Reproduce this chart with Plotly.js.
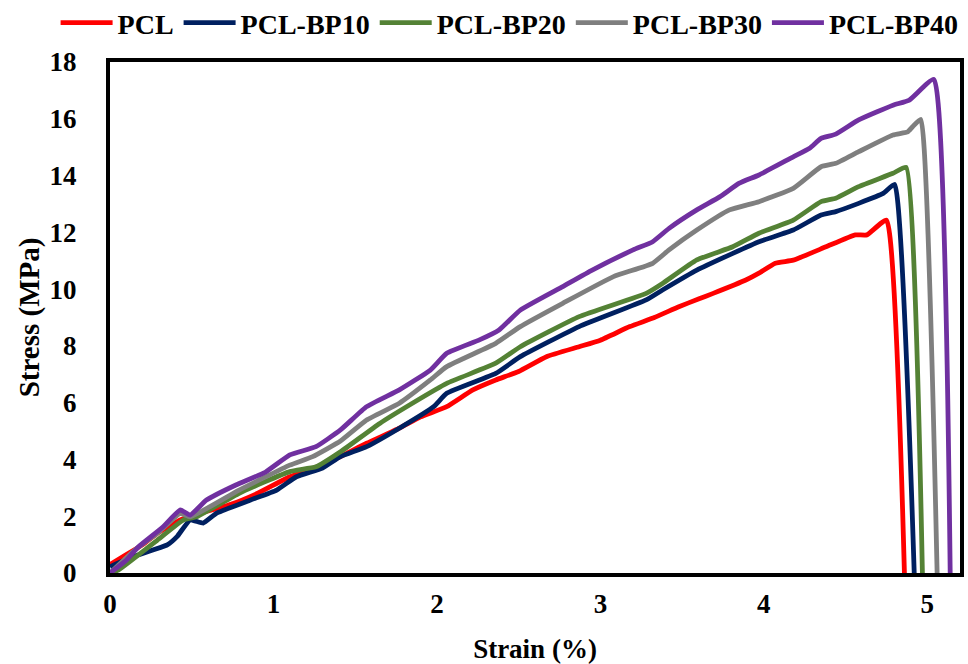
<!DOCTYPE html>
<html>
<head>
<meta charset="utf-8">
<script src="https://cdn.plot.ly/plotly-3.0.1.min.js"></script>
<style>html,body{margin:0;padding:0;background:#fff;}#chart{width:968px;height:664px;}</style>
</head>
<body>
<div id="chart"></div>
<script>
const seriesNames = ["PCL", "PCL-BP10", "PCL-BP20", "PCL-BP30", "PCL-BP40"];
const seriesColors = ["#FF0000", "#002060", "#548235", "#7F7F7F", "#7030A0"];

const strainPCL = [0, 0.1, 0.2, 0.29, 0.43, 0.55, 0.73, 0.9, 1.1, 1.25, 1.41, 1.57, 1.77, 1.9, 2.06, 2.22, 2.36, 2.5, 2.67, 2.87, 3.0, 3.18, 3.33, 3.48, 3.6, 3.69, 3.89, 3.97, 4.07, 4.18, 4.38, 4.56, 4.63, 4.75, 4.86];
const stressPCL = [0.3, 0.65, 1.0, 1.4, 1.87, 2.1, 2.4, 2.8, 3.39, 3.7, 4.1, 4.57, 5.1, 5.5, 5.86, 6.45, 6.8, 7.1, 7.62, 7.97, 8.2, 8.68, 9.0, 9.38, 9.65, 9.85, 10.32, 10.56, 10.91, 11.02, 11.49, 11.91, 11.91, 12.43, 0];

const strainBP10 = [0, 0.14, 0.35, 0.41, 0.49, 0.57, 0.65, 0.86, 1.02, 1.14, 1.30, 1.41, 1.57, 1.77, 1.98, 2.06, 2.36, 2.51, 2.87, 3.28, 3.38, 3.59, 3.81, 3.97, 4.18, 4.35, 4.44, 4.58, 4.73, 4.80, 4.92];
const stressBP10 = [0.22, 0.57, 0.99, 1.28, 1.87, 1.76, 2.1, 2.57, 2.92, 3.39, 3.7, 4.1, 4.45, 5.1, 5.86, 6.33, 7.03, 7.62, 8.68, 9.62, 9.97, 10.67, 11.26, 11.67, 12.08, 12.61, 12.73, 13.02, 13.37, 13.69, 0];

const strainBP20 = [0, 0.05, 0.29, 0.45, 0.53, 0.79, 1.10, 1.26, 1.41, 1.65, 1.85, 2.06, 2.36, 2.51, 2.87, 3.28, 3.38, 3.59, 3.81, 3.97, 4.18, 4.35, 4.44, 4.58, 4.79, 4.87, 4.97];
const stressBP20 = [0, 0.1, 1.16, 1.87, 1.98, 2.81, 3.57, 3.74, 4.27, 5.27, 5.98, 6.68, 7.39, 7.97, 9.03, 9.85, 10.2, 11.03, 11.49, 11.97, 12.43, 13.08, 13.2, 13.61, 14.08, 14.29, 0];

const strainBP30 = [0, 0.15, 0.3, 0.43, 0.49, 0.79, 1.10, 1.24, 1.41, 1.57, 1.77, 1.96, 2.06, 2.36, 2.51, 2.77, 3.08, 3.32, 3.42, 3.59, 3.79, 3.97, 4.18, 4.35, 4.44, 4.58, 4.79, 4.88, 4.91, 4.96, 5.06];
const stressBP30 = [0, 0.8, 1.45, 2.1, 1.98, 2.92, 3.80, 4.10, 4.65, 5.39, 5.98, 6.80, 7.27, 8.09, 8.68, 9.50, 10.44, 10.91, 11.38, 12.08, 12.79, 13.08, 13.55, 14.31, 14.43, 14.84, 15.43, 15.54, 15.72, 15.98, 0];

const strainBP40 = [0, 0.1, 0.17, 0.32, 0.43, 0.49, 0.59, 0.77, 0.95, 1.10, 1.26, 1.41, 1.57, 1.77, 1.96, 2.06, 2.26, 2.38, 2.51, 2.77, 2.95, 3.20, 3.32, 3.42, 3.59, 3.73, 3.85, 3.97, 4.18, 4.28, 4.35, 4.44, 4.58, 4.79, 4.89, 5.04, 5.14];
const stressBP40 = [0, 0.45, 0.9, 1.6, 2.22, 2.04, 2.57, 3.1, 3.55, 4.16, 4.45, 5.04, 5.86, 6.45, 7.15, 7.74, 8.21, 8.56, 9.26, 10.09, 10.67, 11.38, 11.67, 12.14, 12.79, 13.25, 13.73, 14.02, 14.66, 14.96, 15.31, 15.46, 15.96, 16.48, 16.66, 17.39, 0];

const xTicks = [0, 1, 2, 3, 4, 5];
const yTicks = [0, 2, 4, 6, 8, 10, 12, 14, 16, 18];

const xs = [strainPCL, strainBP10, strainBP20, strainBP30, strainBP40];
const ys = [stressPCL, stressBP10, stressBP20, stressBP30, stressBP40];

const FONT = '"Liberation Serif", "DejaVu Serif", serif';

const traces = seriesNames.map((n, i) => ({
  type: 'scatter', mode: 'lines', name: n,
  x: xs[i], y: ys[i],
  line: {color: seriesColors[i], width: 4.8, shape: 'spline', smoothing: 0.4}
}));

const layout = {
  width: 968, height: 664,
  margin: {l: 110, r: 8, t: 62, b: 91, autoexpand: false},
  paper_bgcolor: '#fff', plot_bgcolor: '#fff',
  font: {family: FONT, color: '#000'},
  showlegend: true,
  legend: {
    orientation: 'h', xref: 'paper', yref: 'paper',
    x: -0.064, xanchor: 'left', y: 1 + (62 - 23) / 511, yanchor: 'middle',
    itemwidth: 52, bgcolor: 'rgba(0,0,0,0)',
    font: {family: FONT, size: 28, color: '#000', weight: 'bold'},
    itemclick: false, tracegroupgap: 0
  },
  xaxis: {
    range: [0, 5.2], tickvals: xTicks, ticktext: xTicks.map(String),
    showgrid: false, zeroline: false, showline: true, linecolor: '#000', linewidth: 4, mirror: true,
    ticks: '', ticklabelstandoff: 4,
    tickfont: {family: FONT, size: 27, color: '#000', weight: 'bold'},
    title: {text: 'Strain (%)', font: {family: FONT, size: 27, color: '#000', weight: 'bold'}, standoff: 22}
  },
  yaxis: {
    range: [0, 18], tickvals: yTicks, ticktext: yTicks.map(String),
    showgrid: false, zeroline: false, showline: true, linecolor: '#000', linewidth: 4, mirror: true,
    ticks: '', ticklabelstandoff: 24,
    tickfont: {family: FONT, size: 27, color: '#000', weight: 'bold'},
    title: {text: 'Stress (MPa)', font: {family: FONT, size: 29, color: '#000', weight: 'bold'}, standoff: 2}
  }
};

Plotly.newPlot('chart', traces, layout, {displayModeBar: false, staticPlot: true});
</script>
</body>
</html>
